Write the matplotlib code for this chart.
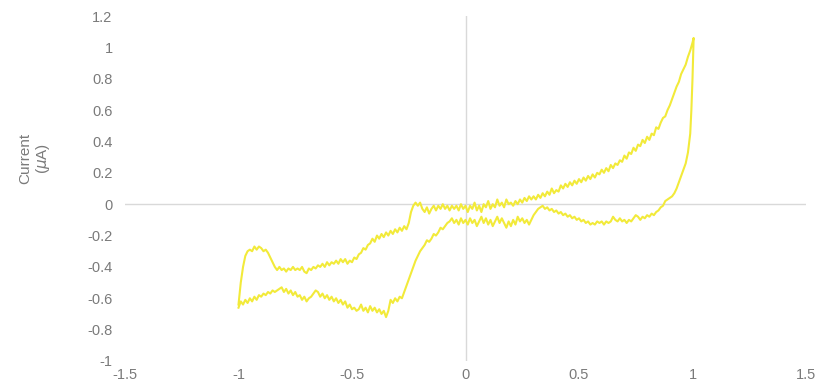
import matplotlib
matplotlib.use("Agg")
import matplotlib.pyplot as plt

# Forward (anodic) scan: potential (V) and current (uA)
fwd_x = [-1.00, -0.99, -0.98, -0.97, -0.96, -0.95, -0.94, -0.93, -0.92, -0.91,
         -0.90, -0.89, -0.88, -0.87, -0.86, -0.85, -0.84, -0.83, -0.82, -0.81,
         -0.80, -0.79, -0.78, -0.77, -0.76, -0.75, -0.74, -0.73, -0.72, -0.71,
         -0.70, -0.69, -0.68, -0.67, -0.66, -0.65, -0.64, -0.63, -0.62, -0.61,
         -0.60, -0.59, -0.58, -0.57, -0.56, -0.55, -0.54, -0.53, -0.52, -0.51,
         -0.50, -0.49, -0.48, -0.47, -0.46, -0.45, -0.44, -0.43, -0.42, -0.41,
         -0.40, -0.39, -0.38, -0.37, -0.36, -0.35, -0.34, -0.33, -0.32, -0.31,
         -0.30, -0.29, -0.28, -0.27, -0.26, -0.25, -0.24, -0.23, -0.22, -0.21,
         -0.20, -0.19, -0.18, -0.17, -0.16, -0.15, -0.14, -0.13, -0.12, -0.11,
         -0.10, -0.09, -0.08, -0.07, -0.06, -0.05, -0.04, -0.03, -0.02, -0.01,
         0.00, 0.01, 0.02, 0.03, 0.04, 0.05, 0.06, 0.07, 0.08, 0.09,
         0.10, 0.11, 0.12, 0.13, 0.14, 0.15, 0.16, 0.17, 0.18, 0.19,
         0.20, 0.21, 0.22, 0.23, 0.24, 0.25, 0.26, 0.27, 0.28, 0.29,
         0.30, 0.31, 0.32, 0.33, 0.34, 0.35, 0.36, 0.37, 0.38, 0.39,
         0.40, 0.41, 0.42, 0.43, 0.44, 0.45, 0.46, 0.47, 0.48, 0.49,
         0.50, 0.51, 0.52, 0.53, 0.54, 0.55, 0.56, 0.57, 0.58, 0.59,
         0.60, 0.61, 0.62, 0.63, 0.64, 0.65, 0.66, 0.67, 0.68, 0.69,
         0.70, 0.71, 0.72, 0.73, 0.74, 0.75, 0.76, 0.77, 0.78, 0.79,
         0.80, 0.81, 0.82, 0.83, 0.84, 0.85, 0.86, 0.87, 0.88, 0.89,
         0.90, 0.91, 0.92, 0.93, 0.94, 0.95, 0.96, 0.97, 0.98, 0.99,
         1.00, 1.005]
fwd_y = [-0.64, -0.50, -0.40, -0.33, -0.30, -0.29, -0.30, -0.27, -0.29, -0.27,
         -0.28, -0.30, -0.29, -0.31, -0.34, -0.37, -0.40, -0.42, -0.40, -0.42,
         -0.41, -0.43, -0.41, -0.42, -0.40, -0.42, -0.41, -0.42, -0.40, -0.43,
         -0.44, -0.41, -0.42, -0.40, -0.41, -0.39, -0.40, -0.38, -0.40, -0.37,
         -0.39, -0.37, -0.38, -0.36, -0.38, -0.35, -0.37, -0.35, -0.38, -0.36,
         -0.37, -0.34, -0.35, -0.32, -0.31, -0.28, -0.29, -0.26, -0.25, -0.22,
         -0.24, -0.20, -0.22, -0.19, -0.21, -0.18, -0.20, -0.17, -0.19, -0.16,
         -0.18, -0.15, -0.17, -0.14, -0.16, -0.12, -0.05, -0.01, 0.01, -0.01,
         0.01, -0.03, -0.05, -0.02, -0.06, -0.03, -0.01, -0.04, -0.01, -0.03,
         0.00, -0.03, -0.01, -0.04, -0.01, -0.03, -0.01, -0.04, 0.00, -0.03,
         -0.01, -0.05, -0.01, -0.03, 0.01, -0.04, -0.01, -0.05, 0.00, -0.02,
         0.02, -0.03, 0.00, -0.02, 0.03, -0.01, 0.01, -0.02, 0.03, 0.00,
         0.01, -0.01, 0.02, 0.00, 0.03, 0.01, 0.04, 0.02, 0.05, 0.03,
         0.05, 0.03, 0.06, 0.04, 0.07, 0.05, 0.08, 0.06, 0.10, 0.07,
         0.09, 0.08, 0.12, 0.10, 0.13, 0.11, 0.14, 0.12, 0.15, 0.13,
         0.16, 0.14, 0.17, 0.15, 0.18, 0.16, 0.19, 0.17, 0.20, 0.19,
         0.22, 0.20, 0.23, 0.21, 0.25, 0.23, 0.26, 0.25, 0.28, 0.27,
         0.31, 0.29, 0.33, 0.32, 0.36, 0.34, 0.38, 0.37, 0.41, 0.39,
         0.43, 0.41, 0.45, 0.44, 0.49, 0.48, 0.52, 0.55, 0.56, 0.60,
         0.63, 0.67, 0.71, 0.75, 0.78, 0.83, 0.86, 0.89, 0.94, 0.98,
         1.03, 1.06]

# Reverse (cathodic) scan
rev_x = [1.00, 0.995, 0.99, 0.98, 0.97, 0.96, 0.95, 0.94, 0.93, 0.92,
         0.91, 0.90, 0.89, 0.88, 0.87, 0.86, 0.85, 0.84, 0.83, 0.82,
         0.81, 0.80, 0.79, 0.78, 0.77, 0.76, 0.75, 0.74, 0.73, 0.72,
         0.71, 0.70, 0.69, 0.68, 0.67, 0.66, 0.65, 0.64, 0.63, 0.62,
         0.61, 0.60, 0.59, 0.58, 0.57, 0.56, 0.55, 0.54, 0.53, 0.52,
         0.51, 0.50, 0.49, 0.48, 0.47, 0.46, 0.45, 0.44, 0.43, 0.42,
         0.41, 0.40, 0.39, 0.38, 0.37, 0.36, 0.35, 0.34, 0.33, 0.32,
         0.31, 0.30, 0.29, 0.28, 0.27, 0.26, 0.25, 0.24, 0.23, 0.22,
         0.21, 0.20, 0.19, 0.18, 0.17, 0.16, 0.15, 0.14, 0.13, 0.12,
         0.11, 0.10, 0.09, 0.08, 0.07, 0.06, 0.05, 0.04, 0.03, 0.02,
         0.01, 0.00, -0.01, -0.02, -0.03, -0.04, -0.05, -0.06, -0.07, -0.08,
         -0.09, -0.10, -0.11, -0.12, -0.13, -0.14, -0.15, -0.16, -0.17, -0.18,
         -0.19, -0.20, -0.21, -0.22, -0.23, -0.24, -0.25, -0.26, -0.27, -0.28,
         -0.29, -0.30, -0.31, -0.32, -0.33, -0.34, -0.35, -0.36, -0.37, -0.38,
         -0.39, -0.40, -0.41, -0.42, -0.43, -0.44, -0.45, -0.46, -0.47, -0.48,
         -0.49, -0.50, -0.51, -0.52, -0.53, -0.54, -0.55, -0.56, -0.57, -0.58,
         -0.59, -0.60, -0.61, -0.62, -0.63, -0.64, -0.65, -0.66, -0.67, -0.68,
         -0.69, -0.70, -0.71, -0.72, -0.73, -0.74, -0.75, -0.76, -0.77, -0.78,
         -0.79, -0.80, -0.81, -0.82, -0.83, -0.84, -0.85, -0.86, -0.87, -0.88,
         -0.89, -0.90, -0.91, -0.92, -0.93, -0.94, -0.95, -0.96, -0.97, -0.98,
         -0.99, -1.00]
rev_y = [0.80, 0.60, 0.45, 0.33, 0.26, 0.22, 0.18, 0.14, 0.10, 0.07,
         0.05, 0.04, 0.03, 0.02, -0.01, -0.02, -0.04, -0.05, -0.07, -0.06,
         -0.08, -0.07, -0.09, -0.08, -0.10, -0.08, -0.07, -0.09, -0.11, -0.10,
         -0.12, -0.10, -0.11, -0.09, -0.11, -0.10, -0.08, -0.11, -0.12, -0.11,
         -0.13, -0.11, -0.12, -0.11, -0.13, -0.12, -0.13, -0.11, -0.12, -0.10,
         -0.11, -0.09, -0.10, -0.08, -0.09, -0.07, -0.08, -0.06, -0.07, -0.05,
         -0.06, -0.04, -0.05, -0.03, -0.04, -0.02, -0.03, -0.01, -0.02, -0.03,
         -0.05, -0.07, -0.10, -0.13, -0.10, -0.12, -0.09, -0.11, -0.08, -0.13,
         -0.10, -0.14, -0.11, -0.15, -0.12, -0.09, -0.12, -0.08, -0.11, -0.14,
         -0.10, -0.13, -0.09, -0.12, -0.08, -0.11, -0.14, -0.10, -0.12, -0.09,
         -0.13, -0.10, -0.12, -0.09, -0.13, -0.10, -0.12, -0.09, -0.11, -0.12,
         -0.14, -0.16, -0.15, -0.18, -0.20, -0.19, -0.22, -0.24, -0.23, -0.26,
         -0.28, -0.30, -0.33, -0.36, -0.40, -0.44, -0.48, -0.52, -0.56, -0.60,
         -0.59, -0.62, -0.60, -0.63, -0.61, -0.68, -0.72, -0.68, -0.70, -0.67,
         -0.69, -0.66, -0.68, -0.65, -0.69, -0.66, -0.68, -0.64, -0.67, -0.68,
         -0.66, -0.67, -0.64, -0.66, -0.62, -0.64, -0.61, -0.63, -0.60, -0.62,
         -0.59, -0.61, -0.58, -0.60, -0.57, -0.59, -0.56, -0.55, -0.57, -0.59,
         -0.60, -0.62, -0.59, -0.61, -0.58, -0.59, -0.56, -0.58, -0.55, -0.57,
         -0.54, -0.56, -0.53, -0.54, -0.55, -0.56, -0.55, -0.57, -0.56, -0.58,
         -0.57, -0.59, -0.58, -0.61, -0.59, -0.62, -0.60, -0.63, -0.61, -0.64,
         -0.62, -0.66]

x_ticks = [-1.5, -1, -0.5, 0, 0.5, 1, 1.5]
y_ticks = [-1, -0.8, -0.6, -0.4, -0.2, 0, 0.2, 0.4, 0.6, 0.8, 1, 1.2]
y_label = "Current\n($\\mu$A)"

plt.rcParams['font.family'] = ['Liberation Sans', 'DejaVu Sans']
fig = plt.figure(figsize=(8.36, 3.91), dpi=100)
ax = fig.add_axes([125 / 836, 1 - 361 / 391, 681 / 836, 345 / 391])

line_color = '#F2EA3A'
ax.plot(fwd_x + rev_x, fwd_y + rev_y, color=line_color, lw=1.5, solid_joinstyle='round')

ax.set_xlim(-1.5, 1.5)
ax.set_ylim(-1, 1.2)
ax.axhline(0, color='#d9d9d9', lw=1.0, zorder=0)
ax.axvline(0, color='#d9d9d9', lw=1.0, zorder=0)
for s in ax.spines.values():
    s.set_visible(False)

text_color = '#7a7a7a'
ax.set_xticks(x_ticks)
ax.set_xticklabels([f"{t:g}" for t in x_ticks])
ax.set_yticks(y_ticks)
ax.set_yticklabels([f"{t:g}" for t in y_ticks])
ax.tick_params(axis='both', length=0, labelsize=10.5, labelcolor=text_color)
ax.tick_params(axis='x', pad=5)
ax.tick_params(axis='y', pad=9)

fig.text(35 / 836, 1 - 158 / 391, y_label, rotation=90, ha='center', va='center',
         fontsize=11, color=text_color, linespacing=1.1)

fig.savefig('out.png', dpi=100, facecolor='white')
